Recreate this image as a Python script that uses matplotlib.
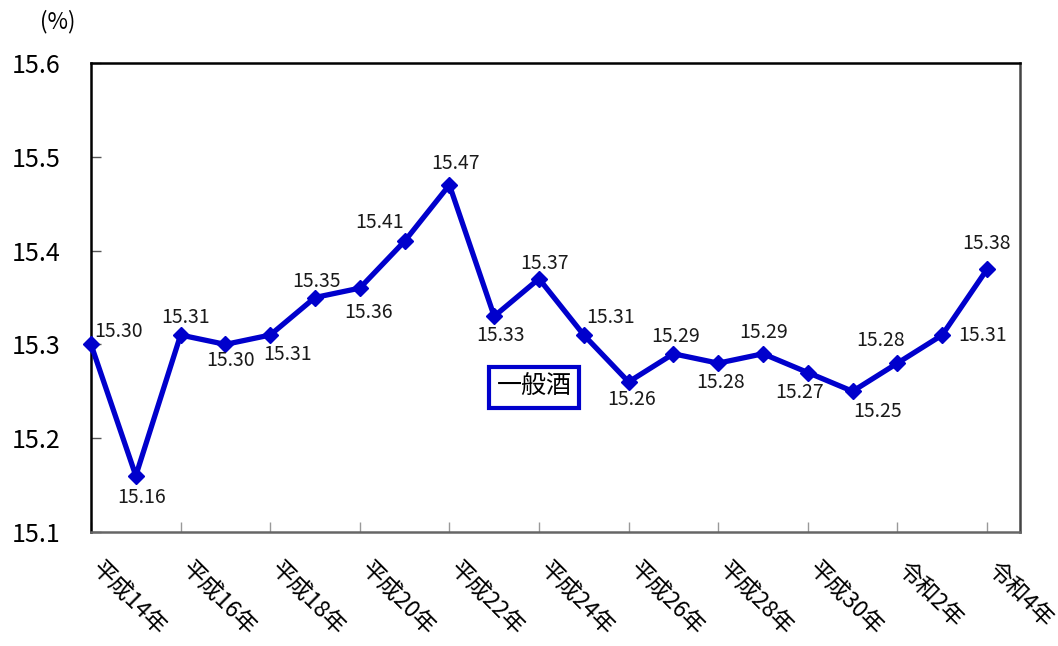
import matplotlib
matplotlib.use("Agg")
import matplotlib.pyplot as plt
import numpy as np

plt.rcParams['font.family'] = ['Noto Sans CJK JP', 'DejaVu Sans']

years = ["平成14年", "平成15年", "平成16年", "平成17年", "平成18年", "平成19年",
         "平成20年", "平成21年", "平成22年", "平成23年", "平成24年", "平成25年",
         "平成26年", "平成27年", "平成28年", "平成29年", "平成30年", "令和元年",
         "令和2年", "令和3年", "令和4年"]
values = [15.30, 15.16, 15.31, 15.30, 15.31, 15.35, 15.36, 15.41, 15.47, 15.33,
          15.37, 15.31, 15.26, 15.29, 15.28, 15.29, 15.27, 15.25, 15.28, 15.31, 15.38]
series_name = "一般酒"

# label offsets in pixels (dx right, dy up)
label_off = [(28, 13), (6, -22), (5, 18), (5, -16), (17, -19), (1, 16), (9, -24),
             (-25, 19), (6, 21), (6, -19), (5, 15), (27, 18), (3, -18), (2, 17),
             (2, -19), (1, 21), (-8, -20), (25, -20), (-17, 23), (40, 0), (-1, 26)]

blue = "#0000CC"

fig = plt.figure(figsize=(10.58, 6.46), dpi=100)
ax = fig.add_axes([91 / 1058, 1 - 532 / 646, (1020 - 91) / 1058, (532 - 63) / 646])

x = np.arange(len(values))
ax.plot(x, values, color=blue, lw=3.8, marker="D", ms=8, clip_on=False, zorder=3)

for i, v in enumerate(values):
    dx, dy = label_off[i]
    ax.annotate(f"{v:.2f}", (i, v), xytext=(dx, dy), textcoords="offset pixels",
                ha="center", va="center", fontsize=14, color="#1a1a1a")

ax.set_xlim(0, 20 + 33 / 44.8)
ax.set_ylim(15.1, 15.6)
ax.set_yticks(np.arange(15.1, 15.61, 0.1))
ax.set_yticklabels([f"{t:.1f}" for t in np.arange(15.1, 15.61, 0.1)], fontsize=18)
ax.tick_params(axis="y", direction="in", length=7, width=1, color="#555555", pad=22)

tick_pos = x[::2]
ax.set_xticks(tick_pos)
ax.set_xticklabels([])
ax.tick_params(axis="x", direction="in", length=7, width=1, color="#999999")

for i in tick_pos:
    ax.annotate(years[i], (i, 0), xycoords=("data", "axes fraction"),
                xytext=(4, -34), textcoords="offset pixels",
                ha="left", va="center", rotation=-45, rotation_mode="anchor",
                fontsize=16.5, annotation_clip=False)

ax.spines["left"].set_color("black")
ax.spines["top"].set_color("black")
ax.spines["right"].set_color("#444444")
ax.spines["bottom"].set_color("#666666")
for s in ax.spines.values():
    s.set_linewidth(1.8)

fig.text(58 / 1058, 1 - 22 / 646, "(%)", fontsize=16, ha="center", va="center")

ax.text((534 - 91) / (1020 - 91), (532 - 387) / (532 - 63), series_name,
        transform=ax.transAxes, ha="center", va="center", fontsize=18,
        bbox=dict(boxstyle="square,pad=0.3", fc="white", ec=blue, lw=3))

fig.savefig("out.png", dpi=100)
